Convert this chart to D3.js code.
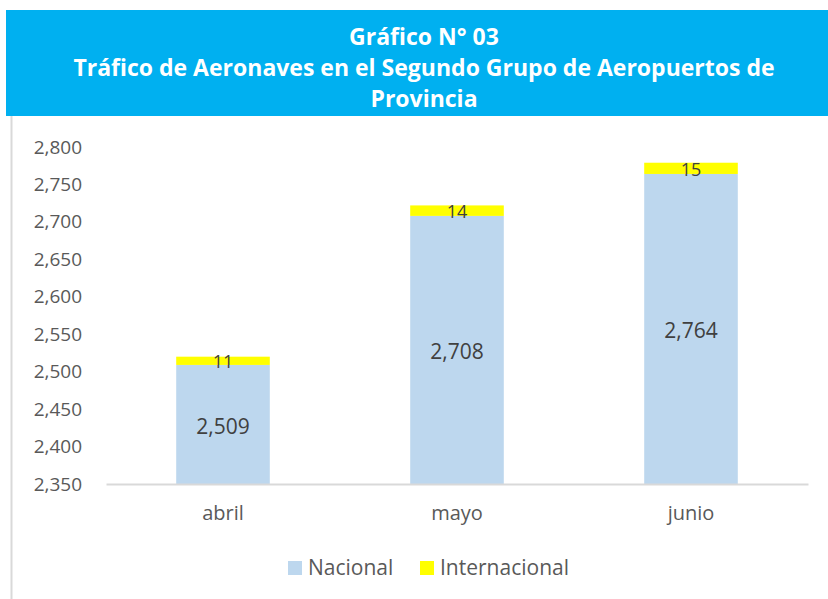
<!DOCTYPE html>
<html>
<head>
<meta charset="utf-8">
<script src="https://cdn.jsdelivr.net/npm/d3@7"></script>
<style>
  body { margin: 0; background: #fff; }
  svg { display: block; font-family: "Open Sans", sans-serif; }
</style>
</head>
<body>
<div id="chart"></div>
<script>
const months = ['abril', 'mayo', 'junio'];
const nacional = [2509, 2708, 2764];
const internacional = [11, 14, 15];
const yTicks = [2350, 2400, 2450, 2500, 2550, 2600, 2650, 2700, 2750, 2800];
const seriesNames = ['Nacional', 'Internacional'];
const titleLines = ['Gráfico N° 03', 'Tráfico de Aeronaves en el Segundo Grupo de Aeropuertos de', 'Provincia'];

const width = 828, height = 599;
const colors = {Nacional: '#bdd7ee', Internacional: '#ffff00'};

const svg = d3.select('#chart').append('svg')
  .attr('width', width)
  .attr('height', height);

// banner
svg.append('rect')
  .attr('x', 6).attr('y', 10)
  .attr('width', width - 6).attr('height', 106)
  .attr('fill', '#00b0f0');

svg.selectAll('.title')
  .data(titleLines)
  .enter().append('text')
  .attr('class', 'title')
  .attr('x', 424)
  .attr('y', (d, i) => 45 + i * 31)
  .attr('text-anchor', 'middle')
  .attr('fill', '#fff')
  .style('font-size', '23px')
  .style('font-weight', 'bold')
  .text(d => d);

// left border of chart area
svg.append('line')
  .attr('x1', 11.5).attr('x2', 11.5)
  .attr('y1', 116).attr('y2', height)
  .attr('stroke', '#d9d9d9').attr('stroke-width', 2);

const x = d3.scaleBand()
  .domain(months)
  .range([106, 808])
  .paddingInner(0.6)
  .paddingOuter(0.3);

const y = d3.scaleLinear()
  .domain([2350, 2800])
  .range([484, 147]);

// y axis labels
const yAxis = svg.append('g')
  .attr('transform', 'translate(88,0)')
  .call(d3.axisLeft(y).tickValues(yTicks).tickFormat(d3.format(',')).tickSize(0).tickPadding(6));
yAxis.select('.domain').remove();
yAxis.selectAll('text')
  .attr('fill', '#595959')
  .style('font-size', '19px')
  .style('font-family', '"Open Sans", sans-serif');

// stacked data
const rows = months.map((m, i) => ({month: m, Nacional: nacional[i], Internacional: internacional[i]}));
const stack = d3.stack().keys(seriesNames);
const stacked = stack(rows);

// bars start at axis minimum
const base = y.domain()[0];

const layers = svg.selectAll('.layer')
  .data(stacked)
  .enter().append('g')
  .attr('class', 'layer')
  .attr('fill', d => colors[d.key]);

layers.selectAll('rect')
  .data(d => d)
  .enter().append('rect')
  .attr('x', d => x(d.data.month))
  .attr('width', x.bandwidth())
  .attr('y', d => y(d[1]))
  .attr('height', d => y(Math.max(d[0], base)) - y(d[1]));

// value labels
stacked.forEach(layer => {
  svg.selectAll('.lbl-' + layer.key)
    .data(layer)
    .enter().append('text')
    .attr('class', 'lbl-' + layer.key)
    .attr('x', d => x(d.data.month) + x.bandwidth() / 2)
    .attr('y', d => (y(Math.max(d[0], base)) + y(d[1])) / 2 + (layer.key === 'Nacional' ? 2 : 1))
    .attr('dy', '0.35em')
    .attr('text-anchor', 'middle')
    .attr('fill', '#404040')
    .style('font-size', layer.key === 'Nacional' ? '21px' : '18px')
    .text(d => d3.format(',')(d.data[layer.key]));
});

// baseline / x axis
const xAxis = svg.append('g')
  .attr('transform', 'translate(0,484)')
  .call(d3.axisBottom(x).tickSize(0).tickPadding(22));
xAxis.select('.domain')
  .attr('stroke', '#d9d9d9')
  .attr('stroke-width', 2);
xAxis.selectAll('text')
  .attr('fill', '#595959')
  .style('font-size', '20px')
  .style('font-family', '"Open Sans", sans-serif');

// legend
const legendPos = [{sx: 288, tx: 308}, {sx: 420, tx: 440}];
const legend = svg.selectAll('.legend')
  .data(seriesNames)
  .enter().append('g')
  .attr('class', 'legend');
legend.append('rect')
  .attr('x', (d, i) => legendPos[i].sx)
  .attr('y', 561)
  .attr('width', 14).attr('height', 14)
  .attr('fill', d => colors[d]);
legend.append('text')
  .attr('x', (d, i) => legendPos[i].tx)
  .attr('y', 568)
  .attr('dy', '0.35em')
  .attr('fill', '#595959')
  .style('font-size', '21px')
  .text(d => d);
</script>
</body>
</html>
